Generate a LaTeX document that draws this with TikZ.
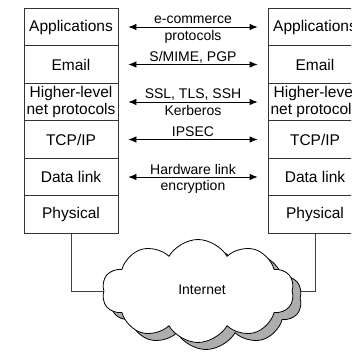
\documentclass[tikz,border=0pt]{standalone}
\usepackage{fontspec}
\setmainfont{Liberation Sans}
\usetikzlibrary{arrows.meta,shapes.symbols}
\tikzset{
  layer/.style={draw=black!80, line width=0.8pt, minimum width=94pt, minimum height=37.5pt,
    inner sep=0pt, align=center, font=\fontsize{15.5}{16.5}\selectfont},
  link/.style={line width=0.8pt, arrows={Latex[length=8pt,width=6.5pt]-Latex[length=8pt,width=6.5pt]}},
  lab/.style={font=\fontsize{14}{15}\selectfont, inner sep=0pt, anchor=base},
  wire/.style={draw=black!75, line width=0.8pt},
  cloudshape/.style={cloud, cloud puffs=10, cloud puff arc=120, cloud ignores aspect,
    minimum width=192pt, minimum height=103pt, inner sep=0pt, line width=0.8pt}
}
\begin{document}
\begin{tikzpicture}[x=1pt,y=-1pt]
\useasboundingbox (0,0) rectangle (351,353);
\clip (0,0) rectangle (351,353);

% left protocol stack
\node[layer] (l1) at (71,27)    {Applications};
\node[layer] (l2) at (71,64.5)  {Email};
\node[layer] (l3) at (71,102)   {Higher-level\\net protocols};
\node[layer] (l4) at (71,139.5) {TCP/IP};
\node[layer] (l5) at (71,177)   {Data link};
\node[layer] (l6) at (71,214.5) {Physical};

% right protocol stack
\node[layer] (r1) at (315,27)    {Applications};
\node[layer] (r2) at (315,64.5)  {Email};
\node[layer] (r3) at (315,102)   {Higher-level\\net protocols};
\node[layer] (r4) at (315,139.5) {TCP/IP};
\node[layer] (r5) at (315,177)   {Data link};
\node[layer] (r6) at (315,214.5) {Physical};

% security mechanisms between peer layers
\foreach \i in {1,...,5}{
  \draw[link] ([xshift=10pt]l\i.east) -- ([xshift=-10pt]r\i.west);
}
\node[lab] (t1a) at (193,24) {e-commerce};
\node[lab] (t1b) at (193,41) {protocols};
\node[lab] (t2a) at (193,61.5) {S/MIME, PGP};
\node[lab] (t3a) at (193,98.5) {SSL, TLS, SSH};
\node[lab] (t3b) at (193,115) {Kerberos};
\node[lab] (t4a) at (193,136.5) {IPSEC};
\node[lab] (t5a) at (193,174) {Hardware link};
\node[lab] (t5b) at (193,190.5) {encryption};

% network cloud with its shadow
\coordinate (cc) at (198,291);
\path[wire] (l6.south) |- (cc);
\path[wire] (r6.south) |- (cc);
\node[cloudshape, draw=black, fill=black!32] (shadow) at (206,298) {};
\node[cloudshape, draw=black, fill=white] (net) at (cc) {};
\node[font=\fontsize{14}{15}\selectfont] (nt) at (202,290) {Internet};
\end{tikzpicture}
\end{document}
